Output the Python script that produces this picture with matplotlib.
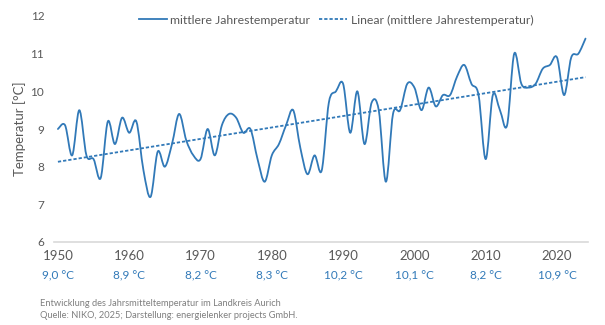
import numpy as np
import matplotlib
matplotlib.use("Agg")
import matplotlib.pyplot as plt
from matplotlib.path import Path
from matplotlib.patches import PathPatch
from matplotlib.lines import Line2D

plt.rcParams['font.family'] = ['Lato', 'DejaVu Sans']

years = list(range(1950, 2025))
temps = [9.0, 9.1, 8.3, 9.5, 8.3, 8.2, 7.7, 9.2, 8.6, 9.3,
         8.9, 9.2, 7.9, 7.2, 8.4, 8.0, 8.6, 9.4, 8.7, 8.3,
         8.2, 9.0, 8.3, 9.1, 9.4, 9.3, 8.9, 9.0, 8.2, 7.6,
         8.3, 8.6, 9.1, 9.5, 8.5, 7.8, 8.3, 7.9, 9.7, 10.0,
         10.2, 8.9, 10.0, 8.6, 9.7, 9.5, 7.6, 9.4, 9.5, 10.2,
         10.1, 9.5, 10.1, 9.6, 9.9, 9.9, 10.4, 10.7, 10.2, 9.9,
         8.2, 9.9, 9.5, 9.1, 11.0, 10.2, 10.1, 10.2, 10.6, 10.7,
         10.9, 9.9, 10.9, 11.0, 11.4]
decade_years = [1950, 1960, 1970, 1980, 1990, 2000, 2010, 2020]
decade_labels = ['9,0 °C', '8,9 °C', '8,2 °C', '8,3 °C', '10,2 °C', '10,1 °C', '8,2 °C', '10,9 °C']
yticks = [6, 7, 8, 9, 10, 11, 12]

series_name = 'mittlere Jahrestemperatur'
trend_name = 'Linear (mittlere Jahrestemperatur)'

blue = '#3179B8'
gray = '#595959'

fig = plt.figure(figsize=(6.05, 3.25), dpi=100)
ax = fig.add_axes([54/605, 1 - 242/325, (588 - 54)/605, (242 - 16)/325])

# smooth curve (Catmull-Rom -> cubic Bezier, like Excel's smoothed line)
x = np.array(years, dtype=float)
y = np.array(temps, dtype=float)
n = len(x)
verts = [(x[0], y[0])]
codes = [Path.MOVETO]
for i in range(n - 1):
    p0 = np.array([x[max(i - 1, 0)], y[max(i - 1, 0)]])
    p1 = np.array([x[i], y[i]])
    p2 = np.array([x[i + 1], y[i + 1]])
    p3 = np.array([x[min(i + 2, n - 1)], y[min(i + 2, n - 1)]])
    c1 = p1 + (p2 - p0) / 6.0
    c2 = p2 - (p3 - p1) / 6.0
    verts += [tuple(c1), tuple(c2), tuple(p2)]
    codes += [Path.CURVE4] * 3
ax.add_patch(PathPatch(Path(verts, codes), fill=False, edgecolor=blue,
                       lw=1.3, capstyle='round', joinstyle='round', zorder=3))

# linear trend
k, b = np.polyfit(x, y, 1)
ax.plot(x, k * x + b, color=blue, lw=1.3, dashes=(1.8, 1.1), zorder=2)

ax.set_xlim(1949.45, 2024.35)
ax.set_ylim(6, 12)
ax.set_yticks(yticks)
ax.set_yticklabels([str(t) for t in yticks])
ax.set_xticks(decade_years)
ax.set_xticklabels([str(d) for d in decade_years])
ax.tick_params(axis='y', length=0, pad=7, labelsize=8.5, labelcolor=gray)
ax.tick_params(axis='x', length=0, pad=6, labelsize=9.5, labelcolor=gray)
for s in ['top', 'right', 'left']:
    ax.spines[s].set_visible(False)
ax.spines['bottom'].set_color('#D9D9D9')
ax.spines['bottom'].set_linewidth(1.2)
ax.set_ylabel('Temperatur [°C]', color=gray, fontsize=9.5, labelpad=6)
ax.yaxis.set_label_coords(-(54 - 26) / 534, 0.5)

for d, lab in zip(decade_years, decade_labels):
    ax.text(d, -(276 - 242) / 226, lab, transform=ax.get_xaxis_transform(), ha='center',
            va='center', color=blue, fontsize=8.5)

handles = [Line2D([], [], color=blue, lw=1.3),
           Line2D([], [], color=blue, lw=1.3, dashes=(1.8, 1.1))]
fig.legend(handles, [series_name, trend_name], loc='center',
           bbox_to_anchor=(336/605, 1 - 20/325), ncol=2, frameon=False,
           fontsize=8.8, labelcolor=gray, handlelength=2.3, handletextpad=0.3,
           columnspacing=0.7)

fig.text(40/605, 1 - 303/325, 'Entwicklung des Jahrsmitteltemperatur im Landkreis Aurich',
         fontsize=6.7, color='#7F7F7F', va='center', ha='left')
fig.text(40/605, 1 - 316/325, 'Quelle: NIKO, 2025; Darstellung: energielenker projects GmbH.',
         fontsize=6.7, color='#7F7F7F', va='center', ha='left')

fig.savefig('out.png', dpi=100)
